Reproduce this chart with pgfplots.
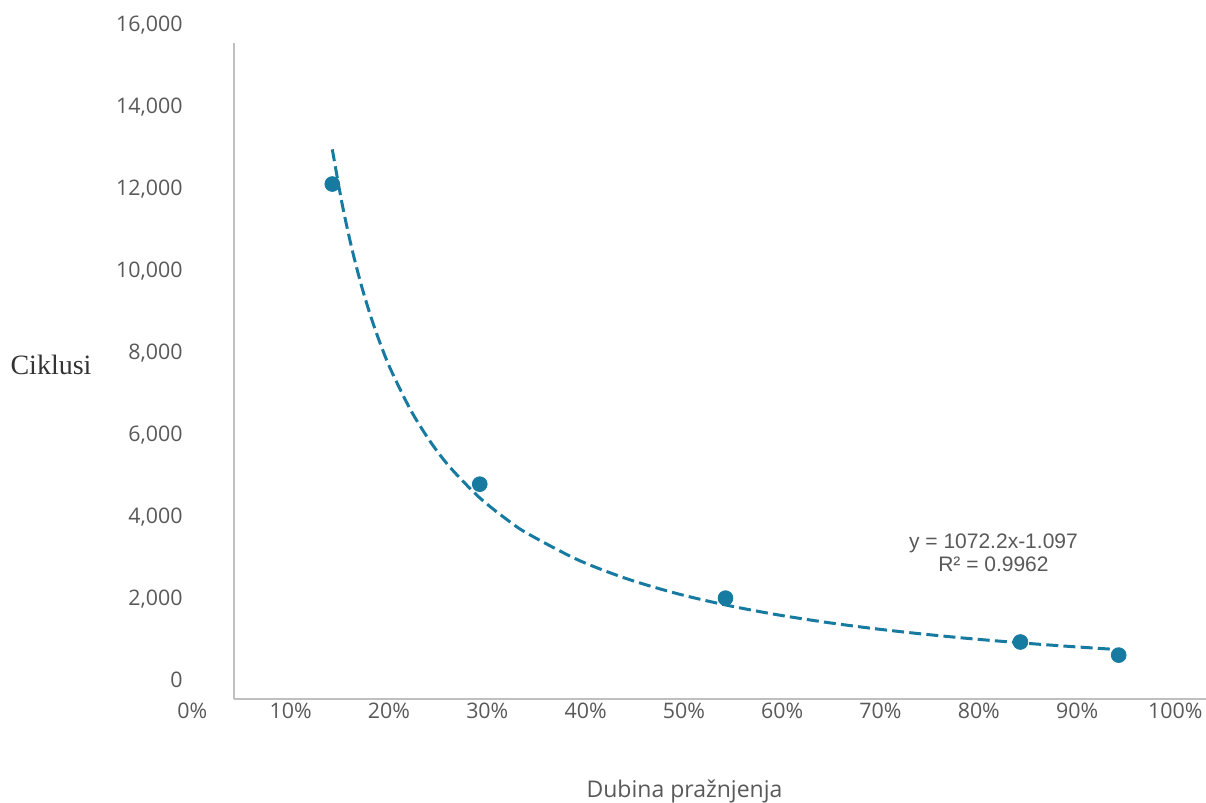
\documentclass[border=0pt]{standalone}
\usepackage{pgfplots}
\pgfplotsset{compat=1.18}
\usepackage{fontspec}
\setmainfont{Open Sans}
\newfontfamily\eqfont{Liberation Sans}
\newfontfamily\serfont{Liberation Serif}
\definecolor{pt}{RGB}{23,122,160}
\definecolor{txt}{RGB}{89,89,89}
\definecolor{axl}{RGB}{191,191,191}
\begin{document}
\begin{tikzpicture}
\begin{axis}[
  scale only axis, width=491.5pt, height=328pt,
  xmin=0, xmax=1, ymin=0, ymax=16000,
  axis lines=left, axis line style={draw=axl, line width=0.75pt, -},
  scaled y ticks=false, scaled x ticks=false,
  xtick={0,0.1,...,1.0}, ytick={0,2000,...,16000},
  xticklabels={0\%,10\%,20\%,30\%,40\%,50\%,60\%,70\%,80\%,90\%,100\%},
  yticklabels={0,{2,000},{4,000},{6,000},{8,000},{10,000},{12,000},{14,000},{16,000}},
  major tick length=0pt,
  tick style={draw=none},
  xticklabel style={anchor=base, inner sep=0pt, xshift=-20.8pt, yshift=-10pt, font=\fontsize{10.7}{12}\selectfont, text=txt},
  yticklabel style={anchor=base east, inner sep=0pt, xshift=-25.5pt, yshift=5.7pt, font=\fontsize{10.7}{12}\selectfont, text=txt},
  clip=false,
]
\coordinate (A) at (rel axis cs:0,0);
\addplot[pt, line width=1.5pt, dash pattern=on 6pt off 2.6pt, smooth] coordinates {
(0.10,13406) (0.11,12075) (0.12,10976) (0.13,10052) (0.14,9268) (0.15,8592)
(0.16,8005) (0.18,7035) (0.20,6267) (0.22,5645) (0.25,4906) (0.28,4333)
(0.30,4017) (0.35,3392) (0.40,2930) (0.45,2575) (0.50,2294) (0.55,2066)
(0.60,1878) (0.65,1720) (0.70,1586) (0.75,1470) (0.80,1370) (0.85,1282) (0.90,1204)
};
\addplot[only marks, mark=*, mark size=3.7pt, mark options={fill=pt, draw=pt}] coordinates {
(0.10,12560) (0.25,5240) (0.50,2460) (0.80,1390) (0.90,1070)
};
\node[align=center, text=txt, font=\eqfont\fontsize{10.5}{11.5}\selectfont] at (axis cs:0.7726,3573) {y = 1072.2x-1.097\\R² = 0.9962};
\end{axis}
\node[text=txt, font=\fontsize{11.5}{13}\selectfont] at ([shift={(225.25pt,-46pt)}]A) {Dubina pražnjenja};
\node[text=black!80, font=\serfont\fontsize{14}{16}\selectfont] at ([shift={(-91.5pt,167pt)}]A) {Ciklusi};
\pgfresetboundingbox
\useasboundingbox ([shift={(-117pt,-52pt)}]A) rectangle ++(603pt,401.5pt);
\end{tikzpicture}
\end{document}
